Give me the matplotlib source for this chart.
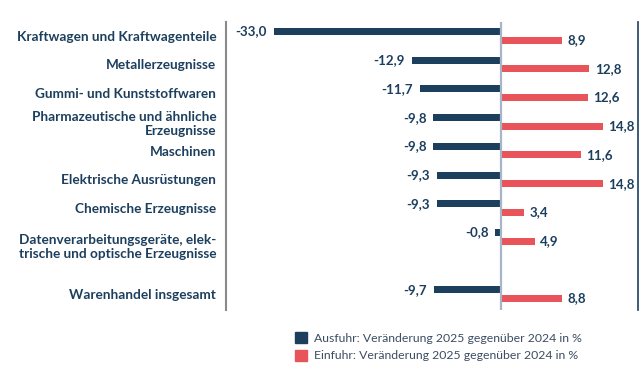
import numpy as np
import matplotlib.pyplot as plt
from matplotlib.patches import Patch
from matplotlib.transforms import ScaledTranslation

# data
categories = ["Kraftwagen und Kraftwagenteile", "Metallerzeugnisse",
              "Gummi- und Kunststoffwaren",
              "Pharmazeutische und ähnliche\nErzeugnisse", "Maschinen",
              "Elektrische Ausrüstungen", "Chemische Erzeugnisse",
              "Datenverarbeitungsgeräte, elek-\ntrische und optische Erzeugnisse",
              "Warenhandel insgesamt"]
ausfuhr = [-33.0, -12.9, -11.7, -9.8, -9.8, -9.3, -9.3, -0.8, -9.7]
einfuhr = [8.9, 12.8, 12.6, 14.8, 11.6, 14.8, 3.4, 4.9, 8.8]
rows = [0, 1, 2, 3, 4, 5, 6, 7, 9]
legend_labels = ["Ausfuhr: Veränderung 2025 gegenüber 2024 in %",
                 "Einfuhr: Veränderung 2025 gegenüber 2024 in %"]

navy = "#1d3f5e"
red = "#e9535a"
plt.rcParams['font.family'] = ['Lato', 'DejaVu Sans']

fig = plt.figure(figsize=(6.39, 3.79), dpi=100)
ax = fig.add_axes([226/639, 1-310/379, (638-226)/639, 288/379])

y = np.array(rows, dtype=float)
h = 0.245
ax.barh(y - 0.15, ausfuhr, height=h, color=navy)
ax.barh(y + 0.15, einfuhr, height=h, color=red)

for yi, v in zip(y, ausfuhr):
    ax.annotate(f"{v:.1f}".replace(".", ","), (v, yi - 0.15), xytext=(-5, 0),
                textcoords="offset points", ha="right", va="center",
                fontsize=9.6, fontweight="bold", color=navy)
for yi, v in zip(y, einfuhr):
    ax.annotate(f"{v:.1f}".replace(".", ","), (v, yi + 0.15), xytext=(4, 0),
                textcoords="offset points", ha="left", va="center",
                fontsize=9.6, fontweight="bold", color=navy)

ax.axvline(0, color="#a7b6c7", lw=1.6)
ax.set_xlim(-39.9, 19.9)
ax.set_ylim(9.55, -0.48)
ax.set_xticks([])
ax.set_yticks(y)
ax.set_yticklabels(categories, fontsize=9.8, fontweight="bold", color=navy,
                   linespacing=1.2)
ax.tick_params(axis="y", length=0, pad=7)
# the two-line label sits a bit lower in the original
lab = ax.get_yticklabels()[7]
lab.set_transform(lab.get_transform() + ScaledTranslation(0, -6/72, fig.dpi_scale_trans))

for s in ["top", "bottom"]:
    ax.spines[s].set_visible(False)
ax.spines["left"].set_color("#8a8a8a")
ax.spines["left"].set_linewidth(1.5)
ax.spines["right"].set_color(navy)
ax.spines["right"].set_linewidth(1.2)

handles = [Patch(color=navy), Patch(color=red)]
fig.legend(handles, legend_labels, loc="upper left",
           bbox_to_anchor=(290/639, 1-327/379), frameon=False,
           fontsize=8.8, labelcolor="#3c4d63", handlelength=1.0,
           handleheight=1.0, handletextpad=0.6, labelspacing=0.5,
           borderaxespad=0)

fig.savefig("out.png", dpi=100)
